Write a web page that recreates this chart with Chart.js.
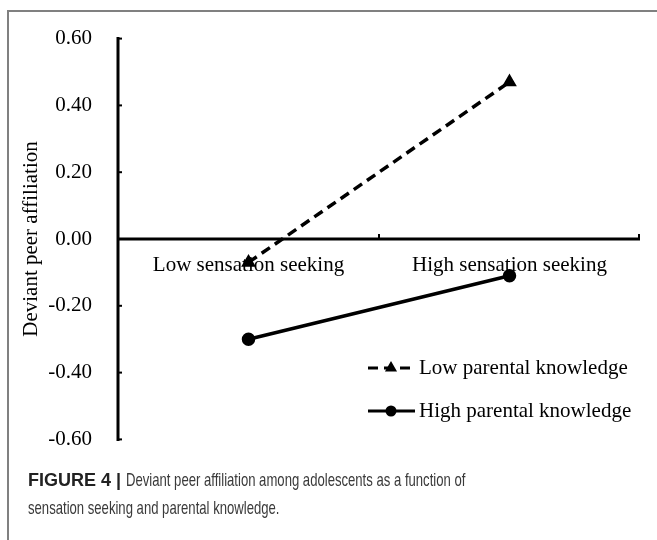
<!DOCTYPE html>
<html><head><meta charset="utf-8">
<script src="https://cdn.jsdelivr.net/npm/chart.js@4/dist/chart.umd.min.js"></script>
<style>
html,body{margin:0;padding:0;background:#fff;}
body{width:657px;height:540px;position:relative;overflow:hidden;}
#frame{position:absolute;left:7px;top:10px;width:700px;height:600px;border-left:2px solid #808080;border-top:2px solid #808080;}
#wrap{position:absolute;left:0;top:0;width:657px;height:478px;}
#cap{position:absolute;left:28px;top:466px;font-family:"Liberation Sans",Arial,sans-serif;font-size:19px;line-height:28px;color:#3a3a3a;white-space:nowrap;}
#cap .ln{height:28px;}
#cap b{color:#222;font-size:18px;display:inline-block;vertical-align:top;}
#cap .nr{display:inline-block;transform:scaleX(0.69);transform-origin:0 0;vertical-align:top;}
</style></head>
<body>
<div id="frame"></div>
<div id="wrap"><canvas id="c" width="657" height="478"></canvas></div>
<div id="cap"><div class="ln"><b>FIGURE 4 |</b> <span class="nr">Deviant peer affiliation among adolescents as a function of</span></div><div class="ln"><span class="nr">sensation seeking and parental knowledge.</span></div></div>
<script>
const categories = ["Low sensation seeking", "High sensation seeking"];
const lowParental = [-0.07, 0.47];
const highParental = [-0.30, -0.11];
const seriesNames = ["Low parental knowledge", "High parental knowledge"];
const yTicks = [-0.6, -0.4, -0.2, 0, 0.2, 0.4, 0.6];
const yTitle = "Deviant peer affiliation";

const SERIF = '"Liberation Serif","Times New Roman",serif';

const axesPlugin = {
  id: 'axesPlugin',
  beforeDatasetsDraw(chart) {
    const ctx = chart.ctx, xs = chart.scales.x, ys = chart.scales.y;
    ctx.save();
    ctx.strokeStyle = '#000';
    ctx.lineWidth = 3;
    ctx.lineCap = 'butt';
    const ax = ys.right;
    const yTop = ys.getPixelForValue(yTicks[yTicks.length - 1]);
    const yBot = ys.getPixelForValue(yTicks[0]);
    ctx.beginPath();
    ctx.moveTo(ax, yTop - 1.5); ctx.lineTo(ax, yBot + 1.5);
    ctx.stroke();
    ctx.lineWidth = 2;
    yTicks.forEach(v => {
      const p = ys.getPixelForValue(v);
      ctx.beginPath(); ctx.moveTo(ax, p); ctx.lineTo(ax + 4, p); ctx.stroke();
    });
    const y0 = ys.getPixelForValue(0);
    ctx.lineWidth = 3;
    ctx.beginPath(); ctx.moveTo(ax, y0); ctx.lineTo(xs.right, y0); ctx.stroke();
    ctx.lineWidth = 2;
    const n = categories.length, w = (xs.right - xs.left) / n;
    for (let i = 1; i <= n; i++) {
      const px = xs.left + i * w - (i === n ? 1 : 0);
      ctx.beginPath(); ctx.moveTo(px, y0); ctx.lineTo(px, y0 - 5); ctx.stroke();
    }
    ctx.restore();
  },
  afterDraw(chart) {
    const ctx = chart.ctx;
    const rows = [368, 411];
    ctx.save();
    chart.data.datasets.forEach((ds, i) => {
      const y = rows[i];
      ctx.strokeStyle = '#000'; ctx.fillStyle = '#000';
      ctx.lineWidth = 3;
      ctx.setLineDash(ds.borderDash || []);
      ctx.beginPath(); ctx.moveTo(368, y); ctx.lineTo(415, y); ctx.stroke();
      ctx.setLineDash([]);
      Chart.helpers.drawPoint(ctx, {pointStyle: ds.pointStyle, radius: 4, rotation: 0, borderWidth: 1}, 391, y);
      ctx.fill();
      ctx.font = '21px ' + SERIF;
      ctx.textAlign = 'left'; ctx.textBaseline = 'middle';
      ctx.fillText(ds.label, 419, y);
    });
    ctx.restore();
  }
};

new Chart(document.getElementById('c'), {
  type: 'line',
  data: {
    labels: categories,
    datasets: [
      { label: seriesNames[0], data: lowParental, borderColor: '#000', backgroundColor: '#000',
        borderWidth: 3.5, borderDash: [10, 6], pointStyle: 'triangle', pointRadius: 5,
        pointBackgroundColor: '#000', pointBorderColor: '#000', fill: false, tension: 0 },
      { label: seriesNames[1], data: highParental, borderColor: '#000', backgroundColor: '#000',
        borderWidth: 3.5, pointStyle: 'circle', pointRadius: 5,
        pointBackgroundColor: '#000', pointBorderColor: '#000', fill: false, tension: 0 }
    ]
  },
  options: {
    responsive: false,
    animation: false,
    layout: { padding: { left: 0, right: 17, top: 37, bottom: 4 } },
    plugins: { legend: { display: false }, tooltip: { enabled: false } },
    scales: {
      x: {
        type: 'category',
        offset: true,
        position: { y: 0 },
        grid: { display: false, drawTicks: false },
        border: { display: false },
        ticks: { color: '#000', font: { family: SERIF, size: 21 }, padding: 14, maxRotation: 0, autoSkip: false },
        afterFit: s => { s.height = 0; }
      },
      y: {
        min: -0.6, max: 0.6,
        grid: { display: false, drawTicks: false },
        border: { display: false },
        afterBuildTicks: s => { s.ticks = yTicks.map(v => ({ value: v })); },
        ticks: { color: '#000', font: { family: SERIF, size: 21 }, padding: 26,
                 callback: v => Number(v).toFixed(2) },
        title: { display: true, text: yTitle, color: '#000', font: { family: SERIF, size: 21 }, padding: { top: 19, bottom: 0 } },
        afterFit: s => { s.width = 118; }
      }
    }
  },
  plugins: [axesPlugin]
});
</script>
</body></html>
